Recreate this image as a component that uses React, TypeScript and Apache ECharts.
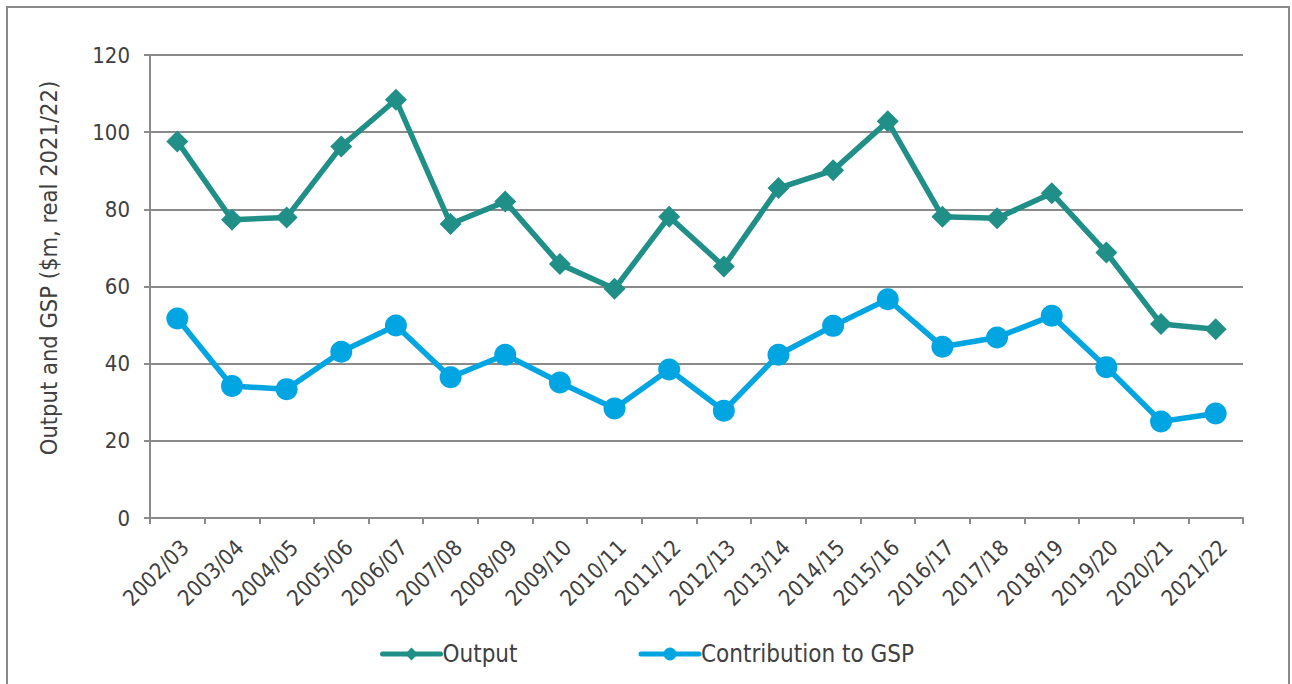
import React, { useEffect, useRef } from "react";
import * as echarts from "echarts";

const categories = [
  "2002/03", "2003/04", "2004/05", "2005/06", "2006/07", "2007/08", "2008/09",
  "2009/10", "2010/11", "2011/12", "2012/13", "2013/14", "2014/15", "2015/16",
  "2016/17", "2017/18", "2018/19", "2019/20", "2020/21", "2021/22",
];

const outputValues = [
  97.6, 77.3, 77.9, 96.3, 108.4, 76.2, 82.0, 65.8, 59.4, 78.1,
  65.2, 85.5, 90.1, 102.8, 78.1, 77.7, 84.2, 68.8, 50.3, 48.9,
];

const gspValues = [
  51.7, 34.2, 33.4, 43.1, 49.9, 36.5, 42.3, 35.1, 28.4, 38.5,
  27.8, 42.3, 49.8, 56.7, 44.4, 46.8, 52.4, 39.1, 25.0, 27.1,
];

const yTicks = { min: 0, max: 120, interval: 20 };
const yTitle = "Output and GSP ($m, real 2021/22)";
const seriesNames = ["Output", "Contribution to GSP"];

const FONT = "'DejaVu Sans Condensed', 'DejaVu Sans', sans-serif";
const TEXT = "#404040";
const AXIS = "#8a8a8a";
const TEAL = "#1f8f87";
const BLUE = "#00a5e2";

export default function App() {
  const ref = useRef<HTMLDivElement>(null);

  useEffect(() => {
    if (!ref.current) return;
    const chart = echarts.init(ref.current, undefined, { renderer: "svg" });
    chart.setOption({
      animation: false,
      backgroundColor: "#ffffff",
      textStyle: { fontFamily: FONT },
      graphic: [
        {
          type: "rect",
          shape: { x: 7, y: 7, width: 1282, height: 700 },
          style: { fill: "none", stroke: AXIS, lineWidth: 2 },
          silent: true,
        },
        {
          type: "text",
          x: 49,
          y: 268,
          rotation: Math.PI / 2,
          style: {
            text: yTitle,
            fill: TEXT,
            font: `23.5px ${FONT}`,
            textAlign: "center",
            textVerticalAlign: "middle",
          },
        },
      ],
      grid: { left: 150, top: 55, width: 1093, height: 463, containLabel: false },
      legend: {
        left: 380,
        top: 642,
        padding: 0,
        itemWidth: 58,
        itemHeight: 16,
        itemGap: 121,
        lineStyle: { width: 5, cap: "round" },
        textStyle: { fontFamily: FONT, fontSize: 24, color: TEXT, padding: [0, 0, 0, -3] },
        data: seriesNames,
      },
      xAxis: {
        type: "category",
        data: categories,
        boundaryGap: true,
        axisLine: { show: true, lineStyle: { color: AXIS, width: 2 } },
        axisTick: { show: true, length: 6, alignWithLabel: false, lineStyle: { color: AXIS, width: 2 } },
        axisLabel: {
          rotate: 45,
          interval: 0,
          margin: 18,
          verticalAlign: "top",
          color: TEXT,
          fontFamily: FONT,
          fontSize: 22,
        },
        splitLine: { show: false },
      },
      yAxis: {
        type: "value",
        min: yTicks.min,
        max: yTicks.max,
        interval: yTicks.interval,
        axisLine: { show: true, lineStyle: { color: AXIS, width: 2 } },
        axisTick: { show: true, length: 6, lineStyle: { color: AXIS, width: 2 } },
        axisLabel: { color: TEXT, fontFamily: FONT, fontSize: 22, margin: 20 },
        splitLine: { show: true, lineStyle: { color: AXIS, width: 2 } },
      },
      series: [
        {
          name: seriesNames[0],
          type: "line",
          data: outputValues,
          symbol: "diamond",
          symbolSize: 22,
          itemStyle: { color: TEAL },
          lineStyle: { color: TEAL, width: 5.5 },
        },
        {
          name: seriesNames[1],
          type: "line",
          data: gspValues,
          symbol: "circle",
          symbolSize: 22,
          itemStyle: { color: BLUE },
          lineStyle: { color: BLUE, width: 5.5 },
        },
      ],
    });
    return () => chart.dispose();
  }, []);

  return (
    <div
      ref={ref}
      style={{ position: "fixed", left: 0, top: 0, width: 1292, height: 684 }}
    />
  );
}
